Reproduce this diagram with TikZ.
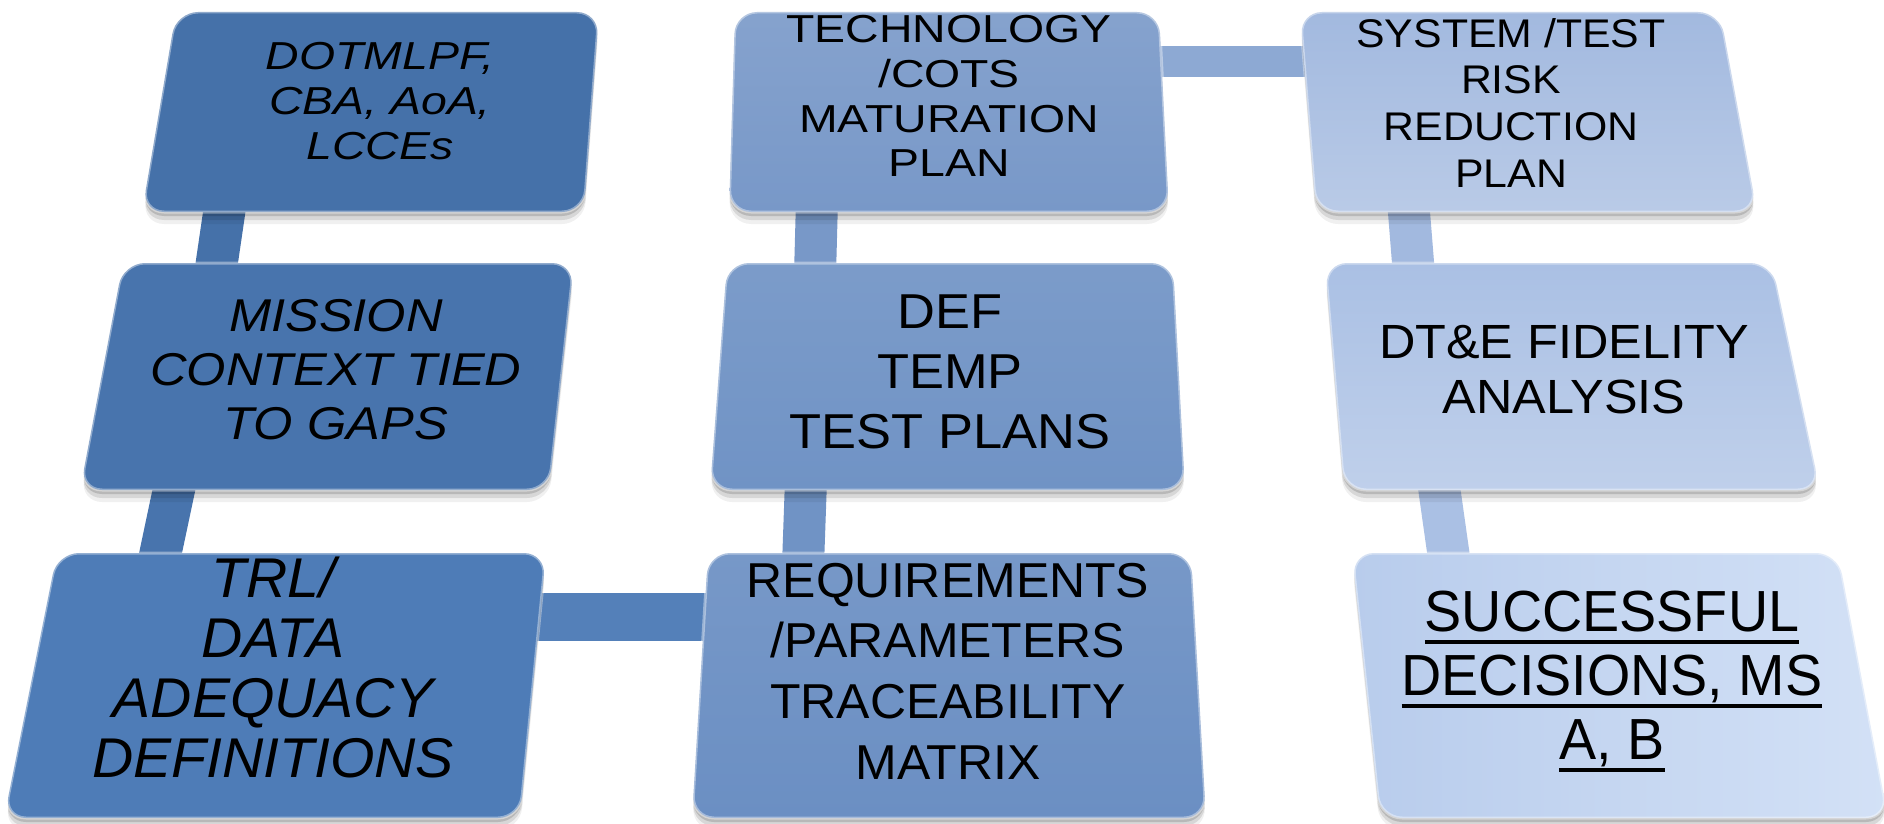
\documentclass[tikz,border=0pt]{standalone}
\usepackage{fontspec}
\setmainfont{Liberation Sans}
\usepackage{graphicx}
\usetikzlibrary{shadows}
\definecolor{cA}{HTML}{4571A9}
\definecolor{cB}{HTML}{4874AD}
\definecolor{cC}{HTML}{4E7CB7}
\definecolor{cD}{HTML}{7898C8}
\definecolor{cE}{HTML}{7093C5}
\definecolor{cF}{HTML}{6B8FC3}
\definecolor{cG}{HTML}{A2B9DF}
\definecolor{cH}{HTML}{AAC0E4}
\definecolor{cI}{HTML}{B8CCEC}
\definecolor{cIr}{HTML}{D3E1F6}
\newcommand\ulx[1]{\leavevmode\setbox0=\hbox{#1}\rlap{\rule[-6pt]{\wd0}{2pt}}\box0}
\newcommand\mytab[1]{\begin{tabular}{@{}c@{}}#1\end{tabular}}
\tikzset{
  boxshape/.style={rounded corners=11pt,
    general shadow={shadow yshift=-2pt, fill=black, opacity=.14},
    general shadow={shadow yshift=-4pt, fill=black, opacity=.10},
    general shadow={shadow yshift=-6pt, fill=black, opacity=.06},
    draw=white, draw opacity=.4, line width=1.5pt},
  bar/.style={line cap=butt, line width=21pt},
  txt/.style={inner sep=0pt, text=black}
}
\begin{document}
\begin{tikzpicture}[x=0.5pt,y=-0.5pt]
\useasboundingbox (0,0) rectangle (1884,824);
\fill[white] (0,0) rectangle (1884,824);

% connector end points
\coordinate (ab1) at (226,200); \coordinate (ab2) at (215,275);
\coordinate (bc1) at (176,480); \coordinate (bc2) at (158,565);
\coordinate (cf1) at (530,617); \coordinate (cf2) at (715,617);
\coordinate (de1) at (817,200); \coordinate (de2) at (815,275);
\coordinate (ef1) at (806,480); \coordinate (ef2) at (803,565);
\coordinate (dg1) at (1150,62); \coordinate (dg2) at (1312,62);
\coordinate (gh1) at (1408,200); \coordinate (gh2) at (1414,275);
\coordinate (hi1) at (1438,480); \coordinate (hi2) at (1450,565);

% connectors (under the boxes)
\draw[bar, color=cA] (ab1) -- (ab2);
\draw[bar, color=cB] (bc1) -- (bc2);
\draw[bar, color=cC!80!cF, line width=24pt] (cf1) -- (cf2);
\draw[bar, color=cD] (de1) -- (de2);
\draw[bar, color=cE] (ef1) -- (ef2);
\draw[bar, color=cD!50!cG, line width=15.5pt] (dg1) -- (dg2);
\draw[bar, color=cG] (gh1) -- (gh2);
\draw[bar, color=cH] (hi1) -- (hi2);

% boxes
\path[boxshape, fill=cA] (176,12) -- (599,12) -- (584,212) -- (142,212) -- cycle;
\path[boxshape, fill=cB] (123,263) -- (574,263) -- (549,490) -- (80,490) -- cycle;
\path[boxshape, fill=cC] (57,553) -- (546,553) -- (520,818) -- (4,818) -- cycle;
\path[boxshape, top color=cD!90!white, bottom color=cD] (735,12) -- (1159,12) -- (1169,212) -- (729,212) -- cycle;
\path[boxshape, top color=cE!92!white, bottom color=cE] (727,263) -- (1173,263) -- (1185,490) -- (710,490) -- cycle;
\path[boxshape, top color=cF!92!white, bottom color=cF] (708,553) -- (1191,553) -- (1206,818) -- (692,818) -- cycle;
\path[boxshape, top color=cG, bottom color=cG!75!white] (1300,12) -- (1720,12) -- (1757,212) -- (1316,212) -- cycle;
\path[boxshape, top color=cH, bottom color=cH!75!white] (1325,263) -- (1772,263) -- (1820,490) -- (1344,490) -- cycle;
\path[boxshape, left color=cI, right color=cIr] (1352,553) -- (1838,553) -- (1888,818) -- (1380,818) -- cycle;

% texts
\node[txt] (A) at (380,106) {\fontsize{19.5}{22.5}\selectfont\itshape\scalebox{1.19}[1]{\mytab{DOTMLPF,\\CBA, AoA,\\LCCEs}}};
\node[txt] (B) at (336,375) {\fontsize{23}{27}\selectfont\itshape\scalebox{1.1}[1]{\mytab{MISSION\\CONTEXT TIED\\TO GAPS}}};
\node[txt] (C) at (273,675) {\fontsize{28}{30}\selectfont\itshape\scalebox{1.02}[1]{\mytab{TRL/\\DATA\\ADEQUACY\\DEFINITIONS}}};
\node[txt] (D) at (949,101) {\fontsize{19.5}{22.35}\selectfont\scalebox{1.19}[1]{\mytab{TECHNOLOGY\\/COTS\\MATURATION\\PLAN}}};
\node[txt] (E) at (950,376) {\fontsize{24.5}{30}\selectfont\scalebox{1.07}[1]{\mytab{DEF\\TEMP\\TEST PLANS}}};
\node[txt] (F) at (948,676) {\fontsize{24.5}{30.35}\selectfont\scalebox{1.02}[1]{\mytab{REQUIREMENTS\\/PARAMETERS\\TRACEABILITY\\MATRIX}}};
\node[txt] (G) at (1511,108) {\fontsize{20}{23.35}\selectfont\scalebox{1.07}[1]{\mytab{SYSTEM /TEST\\RISK\\REDUCTION\\PLAN}}};
\node[txt] (H) at (1564,375) {\fontsize{24}{27.5}\selectfont\scalebox{1.05}[1]{\mytab{DT\&E FIDELITY\\ANALYSIS}}};
\node[txt] (I) at (1612,683) {\fontsize{29}{32}\selectfont\scalebox{0.96}[1]{\mytab{\ulx{SUCCESSFUL}\\\ulx{DECISIONS, MS}\\\ulx{A, B}}}};
\end{tikzpicture}
\end{document}
